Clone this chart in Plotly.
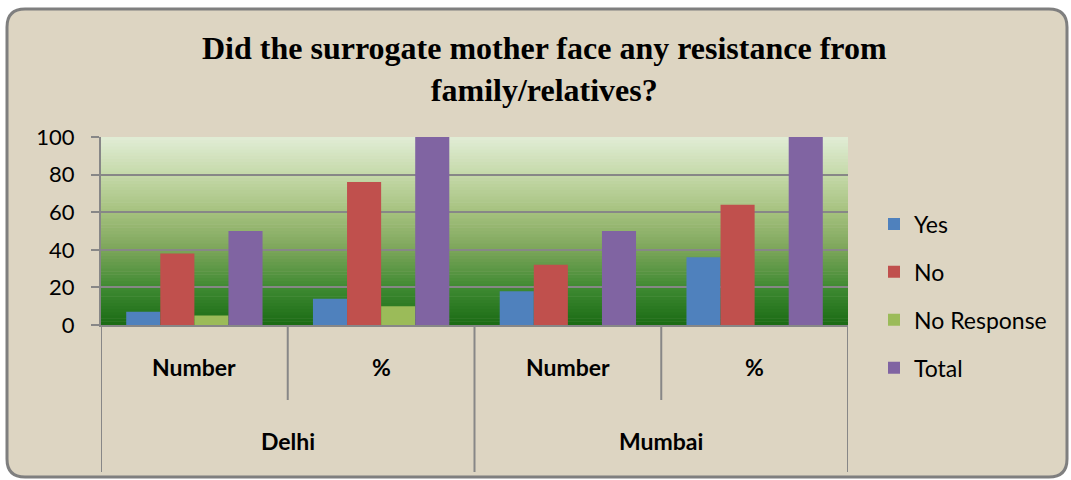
import plotly.graph_objects as go

# ---- data ----
cities = ["Delhi", "Delhi", "Mumbai", "Mumbai"]
measures = ["Number", "%", "Number", "%"]
series_names = ["Yes", "No", "No Response", "Total"]
yes_vals = [7, 14, 18, 36]
no_vals = [38, 76, 32, 64]
noresp_vals = [5, 10, 0, 0]
total_vals = [50, 100, 50, 100]
y_ticks = [0, 20, 40, 60, 80, 100]
title_text = "Did the surrogate mother face any resistance from<br>family/relatives?"

colors = ["#4f81bd", "#c0504d", "#9bbb59", "#8064a2"]
values = [yes_vals, no_vals, noresp_vals, total_vals]

x_idx = list(range(len(cities)))

fig = go.Figure()
for name, vals, col in zip(series_names, values, colors):
    fig.add_trace(go.Bar(
        x=x_idx, y=vals, name=name, legendgroup=name,
        marker=dict(color=col, line=dict(width=0)),
    ))

shapes = []
L, R, T, B = 101, 848, 137, 325
W, H = R - L, B - T
def px(x):
    return (x - L) / W
def py(y):
    return (B - y) / H

x0, x1, y0, y1 = px(7), px(1067), py(477), py(9)
rx, ry = 18 / W, 18 / H
path = (f"M {x0+rx},{y1} L {x1-rx},{y1} Q {x1},{y1} {x1},{y1-ry} "
        f"L {x1},{y0+ry} Q {x1},{y0} {x1-rx},{y0} L {x0+rx},{y0} "
        f"Q {x0},{y0} {x0},{y0+ry} L {x0},{y1-ry} Q {x0},{y1} {x0+rx},{y1} Z")
shapes.append(dict(type="path", path=path, xref="paper", yref="paper",
                   fillcolor="#ddd5c2", line=dict(color="#7f7f7f", width=3), layer="below"))

# gradient plot background
stops = [(0, (26, 107, 20)), (20, (63, 138, 50)), (40, (124, 165, 90)),
         (60, (165, 193, 126)), (80, (197, 217, 169)), (100, (225, 237, 214))]
def col_at(v):
    for (a, ca), (b, cb) in zip(stops[:-1], stops[1:]):
        if a <= v <= b:
            t = (v - a) / (b - a)
            return "rgb(%d,%d,%d)" % tuple(round(ca[i] + (cb[i] - ca[i]) * t) for i in range(3))
    return "rgb(225,237,214)"
n = 60
for i in range(n):
    a = 100 * i / n
    b = 100 * (i + 1) / n
    shapes.append(dict(type="rect", xref="paper", yref="y", x0=0, x1=1, y0=a, y1=b + 0.3,
                       fillcolor=col_at((a + b) / 2), line=dict(width=0), layer="below"))

# category dividers
grey = "#878787"
for xv, ybot in [(-0.5, py(472)), (0.5, py(400)), (1.5, py(472)), (2.5, py(400)), (3.5, py(472))]:
    shapes.append(dict(type="line", xref="x", yref="paper", x0=xv, x1=xv, y0=0, y1=ybot,
                       line=dict(color=grey, width=2)))

lab_font = dict(family="Lato", size=23, color="black")
annotations = []
for i, m in enumerate(measures):
    annotations.append(dict(x=i, y=py(367), xref="x", yref="paper", text=f"<b>{m}</b>",
                            showarrow=False, yanchor="middle", font=lab_font))
for c in dict.fromkeys(cities):
    idx = [i for i, cc in enumerate(cities) if cc == c]
    annotations.append(dict(x=sum(idx) / len(idx), y=py(441), xref="x", yref="paper",
                            text=f"<b>{c}</b>", showarrow=False, yanchor="middle", font=lab_font))
annotations.append(dict(x=px(544), y=py(69), xref="paper", yref="paper", text=f"<b>{title_text}</b>",
                        showarrow=False, yanchor="middle", xanchor="center",
                        font=dict(family="Liberation Serif", size=32, color="black")))

fig.update_layout(
    width=1071, height=480,
    margin=dict(l=L, r=1071 - R, t=T, b=480 - B),
    paper_bgcolor="white",
    plot_bgcolor="rgba(0,0,0,0)",
    barmode="group", bargap=0.27, bargroupgap=0,
    shapes=shapes, annotations=annotations,
    showlegend=True,
    legend=dict(x=px(874), y=py(296), xanchor="left", yanchor="middle",
                font=dict(family="Lato", size=23, color="black"), maxheight=400,
                tracegroupgap=15, bgcolor="rgba(0,0,0,0)"),
    xaxis=dict(range=[-0.5, 3.5], showticklabels=False, showgrid=False, zeroline=False,
               showline=True, linecolor=grey, linewidth=2, ticks=""),
    yaxis=dict(range=[0, 100], tickvals=y_ticks, showgrid=True, gridcolor=grey, gridwidth=2,
               zeroline=False, showline=True, linecolor=grey, linewidth=2,
               ticks="outside", ticklen=8, tickwidth=2, tickcolor=grey, ticklabelstandoff=12,
               tickfont=dict(family="Lato", size=22, color="black")),
)

fig.write_html("out.html", config={"displayModeBar": False},
               post_script="document.body.style.margin='0';document.body.style.overflow='hidden';")
